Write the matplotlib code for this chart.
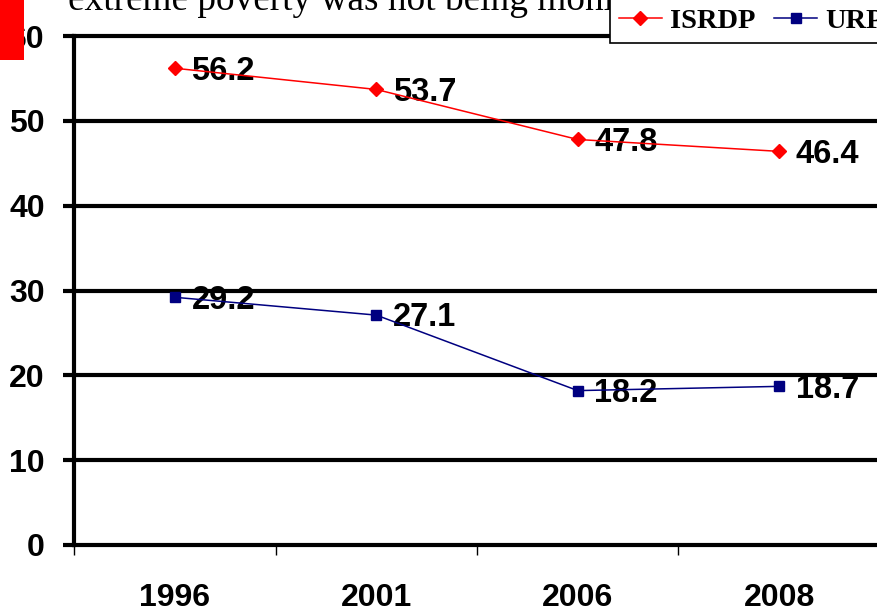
import matplotlib
matplotlib.use("Agg")
import matplotlib.pyplot as plt
from matplotlib.patches import Rectangle

years = ["1996", "2001", "2006", "2008"]
isrdp = [56.2, 53.7, 47.8, 46.4]
urp = [29.2, 27.1, 18.2, 18.7]
yticks = [0, 10, 20, 30, 40, 50, 60]
title_text = "extreme poverty was not being monitored"

W, H = 877, 609
fig = plt.figure(figsize=(W / 100, H / 100), dpi=100)
left_px, right_px = 74, 880
bottom_px, top_px = 545, 36
ax = fig.add_axes([left_px / W, (H - bottom_px) / H,
                   (right_px - left_px) / W, (bottom_px - top_px) / H])

xs = [i + 0.5 for i in range(len(years))]
ax.set_xlim(0, len(years))
ax.set_ylim(0, 60)

# gridlines
for yv in yticks[1:]:
    ax.axhline(yv, color="black", lw=3.0, zorder=2, clip_on=False)

l1, = ax.plot(xs, isrdp, color="#FF0000", lw=1.1, marker="D", markersize=7.5,
              markerfacecolor="#FF0000", markeredgecolor="#FF0000", zorder=4)
l2, = ax.plot(xs, urp, color="#000080", lw=1.1, marker="s", markersize=6.5,
              markerfacecolor="#000080", markeredgecolor="#000080", zorder=4)

lab_font = dict(family="Liberation Sans", weight="bold", size=23.5)
for x, v in zip(xs, isrdp):
    ax.annotate(f"{v:.1f}", (x, v), xytext=(12, -2), textcoords="offset points",
                ha="left", va="center", zorder=1, annotation_clip=False, **lab_font)
for x, v in zip(xs, urp):
    ax.annotate(f"{v:.1f}", (x, v), xytext=(12, -2), textcoords="offset points",
                ha="left", va="center", zorder=1, annotation_clip=False, **lab_font)

# spines
for s in ["top", "right"]:
    ax.spines[s].set_visible(False)
ax.spines["left"].set_linewidth(3.0)
ax.spines["bottom"].set_linewidth(3.0)
ax.spines["left"].set_zorder(5)
ax.spines["bottom"].set_zorder(5)

tick_font = dict(family="Liberation Sans", weight="bold", size=23)
ax.set_yticks(yticks)
ax.set_yticklabels([str(t) for t in yticks], **tick_font)
ax.tick_params(axis="y", direction="out", length=8, width=3.0, pad=13)

ax.set_xticks(range(len(years) + 1))
ax.set_xticklabels([])
ax.tick_params(axis="x", which="major", direction="out", length=7, width=1.0)
ax.set_xticks(xs, minor=True)
ax.set_xticklabels(years, minor=True, **tick_font)
ax.tick_params(axis="x", which="minor", length=0, pad=27)

# title text (cut off slide text)
fig.text(68 / W, (H - 10) / H, title_text, family="Liberation Serif",
         size=26.8, ha="left", va="baseline", zorder=3)

# legend frame (extends above the visible area)
fig.patches.append(Rectangle((610 / W, (H - 43) / H), 300 / W, 80 / H,
                             transform=fig.transFigure, facecolor="white",
                             edgecolor="black", linewidth=1.2, zorder=5))
leg = fig.legend(handles=[l1, l2], labels=["ISRDP", "URP"], ncol=2,
                 loc="lower left", bbox_to_anchor=(612 / W, (H - 41) / H),
                 bbox_transform=fig.transFigure, frameon=False,
                 prop=dict(family="Liberation Serif", weight="bold", size=20.5),
                 handlelength=1.5, handletextpad=0.3, columnspacing=0.65,
                 borderpad=0.25, borderaxespad=0)
leg.set_zorder(6)

# red slide decoration
fig.patches.append(Rectangle((0, (H - 60) / H), 24 / W, 60 / H,
                             transform=fig.transFigure, facecolor="#FF0000",
                             edgecolor="none", zorder=7))

fig.savefig("out.png", dpi=100)
